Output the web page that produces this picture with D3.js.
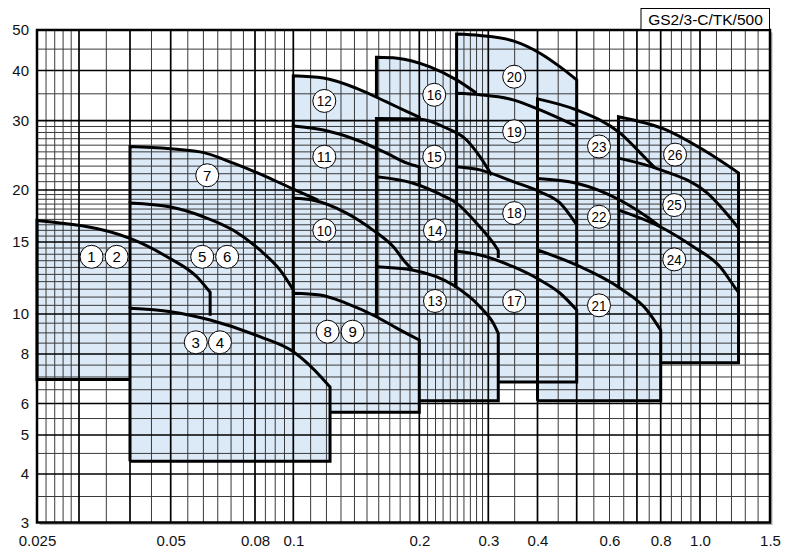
<!DOCTYPE html>
<html><head><meta charset="utf-8">
<script src="https://cdn.jsdelivr.net/npm/d3@7"></script>
<style>body{margin:0;background:#fff}svg{display:block}</style>
</head><body>
<svg id="chart" width="800" height="559"></svg>
<script>
// ---------------- data ----------------
const xTickValues = [0.025,0.05,0.08,0.1,0.2,0.3,0.4,0.6,0.8,1.0,1.5];
const xTickText   = ["0.025","0.05","0.08","0.1","0.2","0.3","0.4","0.6","0.8","1.0","1.5"];
const yTickValues = [3,4,5,6,8,10,15,20,30,40,50];
const xMajorGrid = [0.03,0.04,0.05,0.08,0.1,0.2,0.3,0.4,0.5,0.7,0.8,1.0];
const xMinorGrid = [0.026,0.027,0.028,0.029,0.035,0.045,0.055,0.06,0.065,0.07,0.075,0.085,0.09,0.095,
  0.11,0.12,0.13,0.14,0.15,0.16,0.17,0.18,0.19,0.21,0.22,0.23,0.24,0.25,0.26,0.27,0.28,0.29,
  0.35,0.45,0.55,0.6,0.65,0.75,0.85,0.9,0.95,1.1,1.2,1.3,1.4];
const yMajorGrid = [4,5,6,8,10,15,20,30,40];
const yMinorGrid = [3.5,4.5,5.5,6.5,7,7.5,8.5,9,9.5,10.5,11,11.5,12,12.5,13,13.5,14,14.5,
  15.5,16,16.5,17,17.5,18,18.5,19,19.5,21,22,23,24,25,26,27,28,29,35,45];
const title = "GS2/3-C/TK/500";

// performance ranges: top curve (Q, H)
const regionNames = ["1-2","3-4","5-6","7","8-9","10","11","12","13","14","15","16","17","18","19","20","21","22","23","24","25","26"];
const regionTop = [
 [[0.025,16.9],[0.04,15.3],[0.049,13.8],[0.058,12.3],[0.0623,11.3]],
 [[0.04,10.33],[0.05,10.13],[0.0623,9.67],[0.0823,8.81],[0.1,8.10],[0.1171,6.96],[0.1224,6.6]],
 [[0.04,18.6],[0.05,18.2],[0.06,17.25],[0.0709,16.0],[0.0823,14.34],[0.0926,12.8],[0.1,11.45]],
 [[0.04,25.8],[0.0589,25.0],[0.0709,23.4],[0.0856,21.6],[0.1,20.1],[0.1146,18.9]],
 [[0.1,11.24],[0.1158,11.13],[0.134,10.62],[0.158,9.85],[0.177,9.23],[0.2,8.65]],
 [[0.1,19.1],[0.1116,18.9],[0.134,17.6],[0.1553,16.0],[0.1734,14.6],[0.185,13.4],[0.192,12.87]],
 [[0.1,29.1],[0.118,28.4],[0.1417,26.8],[0.167,24.8],[0.187,23.4],[0.2,22.9]],
 [[0.1,38.8],[0.118,38.3],[0.1417,36.1],[0.167,33.4],[0.187,31.6],[0.2,30.6]],
 [[0.158,13.05],[0.1935,12.8],[0.244,11.77],[0.2856,10.42],[0.309,9.5],[0.318,8.98]],
 [[0.158,21.6],[0.1935,20.8],[0.2216,19.7],[0.249,18.6],[0.2856,16.3],[0.309,14.9],[0.318,14.3]],
 [[0.158,30.4],[0.2,30.3],[0.235,28.7],[0.264,26.8],[0.2856,24.3],[0.306,21.8]],
 [[0.158,43.0],[0.177,42.8],[0.213,40.8],[0.249,37.9],[0.28,35.1]],
 [[0.2475,14.26],[0.2856,13.94],[0.347,13.05],[0.4057,12.11],[0.455,11.24],[0.5,10.23]],
 [[0.249,22.9],[0.2856,22.5],[0.347,21.0],[0.4057,19.8],[0.455,18.6],[0.5,16.5]],
 [[0.249,35.1],[0.2856,34.8],[0.347,33.8],[0.4057,31.9],[0.5,29.0]],
 [[0.249,48.9],[0.2856,48.5],[0.347,47.1],[0.4057,44.0],[0.455,40.8],[0.5,37.9]],
 [[0.4,14.34],[0.5,13.17],[0.637,11.56],[0.74,10.23],[0.8,9.14]],
 [[0.4,21.4],[0.5,20.8],[0.637,18.9],[0.74,17.25],[0.8,16.3]],
 [[0.4,34.0],[0.5,31.9],[0.637,27.9],[0.72,24.6],[0.775,22.75]],
 [[0.632,17.9],[0.8,16.3],[0.963,14.6],[1.123,13.05],[1.237,11.45],[1.25,11.3]],
 [[0.631,24.1],[0.8,22.5],[1.04,19.7],[1.25,16.2]],
 [[0.631,30.7],[0.828,28.4],[1.019,25.3],[1.25,22.1]]
];
// lowest head of each range family (fill bottom)
const regionFillBottom = [6.9,4.3,4.3,4.3,5.7,5.7,5.7,5.7,6.1,6.1,6.1,6.1,6.8,6.8,6.8,6.8,6.1,6.1,6.1,7.6,7.6,7.6];
// visible outline pieces before / after the top curve
const regionPre = [
 [[0.04,6.9],[0.025,6.9]], [[0.04,4.3]], [[0.04,10.33]], [[0.04,18.6]], [[0.1,8.1]], [[0.1,11.24]],
 [[0.1,19.1]], [[0.1,29.1]], [[0.158,9.85]], [[0.158,13.05]], [[0.158,21.6]], [[0.158,34.4]],
 [[0.2475,11.6]], [[0.249,14.26]], [[0.249,22.9]], [[0.249,35.1]], [[0.4,6.1]], [[0.4,14.34]],
 [[0.4,21.4]], [[0.632,11.6]], [[0.631,17.9]], [[0.631,24.1]]
];
const regionPost = [
 [[0.0623,9.9]], [[0.1224,4.3],[0.04,4.3]], [[0.1,8.1]], [], [[0.2,5.7],[0.1224,5.7]], [],
 [[0.2,20.6]], [[0.2,30.3]], [[0.318,6.1],[0.2,6.1]], [[0.318,13.7]], [], [],
 [[0.5,6.8],[0.318,6.8]], [[0.5,13.17]], [[0.5,16.5]], [[0.5,29.0]], [[0.8,6.1],[0.4,6.1]], [],
 [], [[1.25,7.6],[0.8,7.6]], [[1.25,11.3]], [[1.25,16.2]]
];
// circled pump numbers
const labelText = ["1","2","3","4","5","6","7","8","9","10","11","12","13","14","15","16","17","18","19","20","21","22","23","24","25","26"];
const labelQ = [0.0322,0.0371,0.0575,0.0658,0.0596,0.0685,0.0613,0.1208,0.1386,0.1186,0.1186,0.1186,0.2193,0.2193,0.2184,0.2184,0.349,0.349,0.349,0.349,0.566,0.566,0.566,0.864,0.864,0.868];
const labelH = [13.8,13.8,8.54,8.54,13.8,13.8,21.8,9.06,9.06,16.0,24.3,33.6,10.76,16.0,24.3,34.8,10.76,17.6,28.2,38.6,10.5,17.25,25.8,13.6,18.4,24.6];

// ---------------- scales (chart paper is slightly non-uniform: piecewise log) ----------------
const x = d3.scaleLog()
  .domain([0.025,0.03,0.04,0.05,0.08,0.1,0.2,0.3,0.4,0.5,0.6,0.8,1.0,1.5])
  .range([37,79,130,170.7,255,293.3,419.3,488.3,537.5,576.7,609.5,660.7,700,770]);
const y = d3.scaleLog()
  .domain([3,4,5,6,8,10,15,20,30,40,50])
  .range([522.5,474,435,403.5,354,314,242,190,120.7,70.5,30]);

const svg = d3.select("#chart");
const font = "'Liberation Sans', Arial, Helvetica, sans-serif";
const X0 = x(0.025), X1 = x(1.5), Y0 = y(3), Y1 = y(50);

// shadow of frame
svg.append("rect").attr("x",X0+2.5).attr("y",Y1+2.5).attr("width",X1-X0).attr("height",Y0-Y1).attr("fill","#b5b5b5");
svg.append("rect").attr("x",X0).attr("y",Y1).attr("width",X1-X0).attr("height",Y0-Y1).attr("fill","#fff");

// fills
const curveLine = d3.line().x(d=>x(d[0])).y(d=>y(d[1])).curve(d3.curveMonotoneX);
const gFill = svg.append("g");
regionTop.forEach((top,i)=>{
  const hb = regionFillBottom[i];
  const q0 = top[0][0], q1 = top[top.length-1][0];
  const p = curveLine(top) + "L" + x(q1) + "," + y(hb) + "L" + x(q0) + "," + y(hb) + "Z";
  gFill.append("path").attr("d",p).attr("fill","#dce9f7").attr("stroke","none");
});

// grid
const gGrid = svg.append("g");
xMinorGrid.forEach(v=>gGrid.append("line").attr("x1",x(v)).attr("x2",x(v)).attr("y1",Y1).attr("y2",Y0).attr("stroke","#3a3a3a").attr("stroke-width",1));
yMinorGrid.forEach(v=>gGrid.append("line").attr("y1",y(v)).attr("y2",y(v)).attr("x1",X0).attr("x2",X1).attr("stroke","#3a3a3a").attr("stroke-width",1));
xMajorGrid.forEach(v=>gGrid.append("line").attr("x1",x(v)).attr("x2",x(v)).attr("y1",Y1).attr("y2",Y0).attr("stroke","#000").attr("stroke-width",1.7));
yMajorGrid.forEach(v=>gGrid.append("line").attr("y1",y(v)).attr("y2",y(v)).attr("x1",X0).attr("x2",X1).attr("stroke","#000").attr("stroke-width",1.7));

// outlines
const gOut = svg.append("g");
regionTop.forEach((top,i)=>{
  let p = "";
  const pre = regionPre[i], post = regionPost[i];
  pre.forEach((d,k)=>{ p += (k===0?"M":"L") + x(d[0]) + "," + y(d[1]); });
  let c = curveLine(top);
  if (p.length) c = "L" + c.slice(1);
  p += c;
  post.forEach(d=>{ p += "L" + x(d[0]) + "," + y(d[1]); });
  gOut.append("path").attr("d",p).attr("fill","none").attr("stroke","#000")
    .attr("stroke-width",3).attr("stroke-linejoin","miter");
});

// frame
svg.append("rect").attr("x",X0).attr("y",Y1).attr("width",X1-X0).attr("height",Y0-Y1)
  .attr("fill","none").attr("stroke","#000").attr("stroke-width",2.5);

// axes (labels only)
const ax = svg.append("g").attr("transform",`translate(0,${Y0})`)
  .call(d3.axisBottom(x).tickValues(xTickValues).tickSize(0).tickPadding(13)
    .tickFormat((d,i)=>xTickText[i]));
ax.select(".domain").remove();
ax.selectAll("text").attr("font-family",font).attr("font-size",15).attr("fill","#111");
const ay = svg.append("g").attr("transform",`translate(${X0},0)`)
  .call(d3.axisLeft(y).tickValues(yTickValues).tickSize(0).tickPadding(8).tickFormat(d=>String(d)));
ay.select(".domain").remove();
ay.selectAll("text").attr("font-family",font).attr("font-size",15).attr("fill","#111");

// circled labels
const gLab = svg.append("g");
labelText.forEach((t,i)=>{
  const cx = x(labelQ[i]), cy = y(labelH[i]);
  gLab.append("circle").attr("cx",cx).attr("cy",cy).attr("r",11.5)
    .attr("fill","#fff").attr("stroke","#000").attr("stroke-width",1);
  const tx = gLab.append("text").attr("x",cx).attr("y",cy+5.3).attr("text-anchor","middle")
    .attr("font-family",font).attr("font-size",15).attr("fill","#000").text(t);
  if (t.length>1) tx.attr("textLength",15).attr("lengthAdjust","spacingAndGlyphs");
});

// title box
svg.append("rect").attr("x",641).attr("y",8.5).attr("width",128.5).attr("height",21)
  .attr("fill","#fff").attr("stroke","#000").attr("stroke-width",1);
svg.append("text").attr("x",705.5).attr("y",25).attr("text-anchor","middle")
  .attr("font-family",font).attr("font-size",15.5).attr("fill","#000").text(title);
</script>
</body></html>
